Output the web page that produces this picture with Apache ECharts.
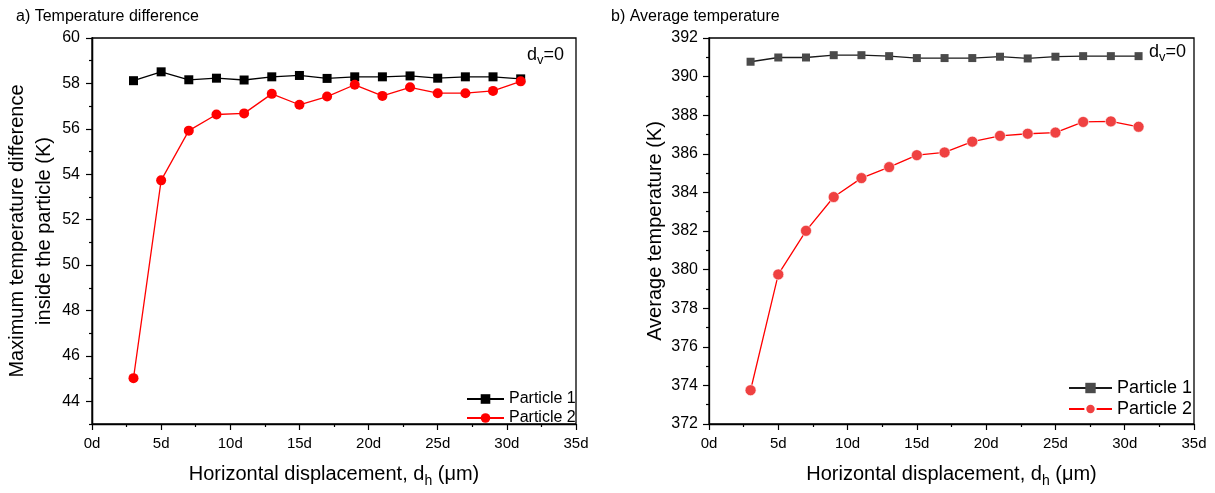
<!DOCTYPE html>
<html>
<head>
<meta charset="utf-8">
<script src="https://cdn.jsdelivr.net/npm/echarts@6/dist/echarts.min.js"></script>
<style>
  html, body { margin: 0; padding: 0; background: #fff; }
  #main { width: 1215px; height: 493px; }
</style>
</head>
<body>
<div id="main"></div>
<script>
// horizontal displacement (in d)
const dh = [3, 5, 7, 9, 11, 13, 15, 17, 19, 21, 23, 25, 27, 29, 31]

// a) max temperature difference inside the particle (K)
const diffP1 = [58.12, 58.51, 58.16, 58.23, 58.15, 58.29, 58.35, 58.22, 58.29, 58.29, 58.33, 58.23, 58.29, 58.29, 58.2]
const diffP2 = [45.02, 53.73, 55.92, 56.63, 56.68, 57.54, 57.06, 57.42, 57.94, 57.45, 57.83, 57.57, 57.57, 57.67, 58.09]

// b) average temperature (K)
const avgP1 = [390.77, 390.99, 390.99, 391.11, 391.11, 391.06, 390.96, 390.96, 390.96, 391.03, 390.94, 391.03, 391.06, 391.06, 391.06]
const avgP2 = [373.75, 379.75, 382.01, 383.76, 384.74, 385.31, 385.93, 386.07, 386.63, 386.93, 387.04, 387.1, 387.65, 387.68, 387.4]

// tick labels of the left y axis (min is 43, so ticks are given by hand)
const diffTicks = [44, 46, 48, 50, 52, 54, 56, 58, 60]
const diffMinor = [43, 45, 47, 49, 51, 53, 55, 57, 59]

const font = 'Liberation Sans, Arial, sans-serif'
const zip = (xs, ys) => xs.map((x, i) => [x, ys[i]])

const chart = echarts.init(document.getElementById('main'))

const axisLine = { show: true, lineStyle: { color: '#000', width: 1.3 } }
const subRich = {
    s: { fontSize: 14, lineHeight: 14, verticalAlign: 'top', padding: [12, 0, 0, 0], fontFamily: font, color: '#000' },
}

const xAxisBase = (gi) => ({
    gridIndex: gi,
    type: 'value',
    min: 0,
    max: 35,
    interval: 5,
    name: 'Horizontal displacement, d{s|h} (μm)',
    nameLocation: 'middle',
    nameGap: 38,
    nameTextStyle: { fontSize: 20, fontFamily: font, color: '#000', lineHeight: 24, rich: subRich },
    axisLine: axisLine,
    axisTick: { show: true, length: 6, lineStyle: { color: '#000', width: 1.2 } },
    minorTick: { show: true, splitNumber: 2, length: 3, lineStyle: { color: '#000', width: 1.2 } },
    axisLabel: { formatter: '{value}d', fontSize: 15, fontFamily: font, color: '#000', margin: 12 },
    splitLine: { show: false },
})

const option = {
    animation: false,
    backgroundColor: '#fff',
    grid: [
        { left: 92, top: 38, width: 484, height: 390, show: true, borderColor: '#000', borderWidth: 1.3 },
        { left: 709, top: 38, width: 485, height: 391, show: true, borderColor: '#000', borderWidth: 1.3 },
    ],
    xAxis: [xAxisBase(0), xAxisBase(1)],
    yAxis: [
        {
            gridIndex: 0,
            type: 'value',
            position: 'left',
            min: 43,
            max: 60,
            name: 'Maximum temperature difference\ninside the particle (K)',
            nameLocation: 'middle',
            nameGap: 32,
            nameTextStyle: { fontSize: 20, fontFamily: font, color: '#000', lineHeight: 27 },
            axisLine: axisLine,
            axisTick: { show: true, length: 6, customValues: diffTicks, lineStyle: { color: '#000', width: 1.2 } },
            axisLabel: { customValues: diffTicks, fontSize: 16, fontFamily: font, color: '#000', margin: 12 },
            splitLine: { show: false },
        },
        {
            // minor ticks only
            gridIndex: 0,
            type: 'value',
            position: 'left',
            offset: 0,
            min: 43,
            max: 60,
            axisLine: axisLine,
            axisTick: { show: true, length: 3, customValues: diffMinor, lineStyle: { color: '#000', width: 1.2 } },
            axisLabel: { show: false },
            splitLine: { show: false },
        },
        {
            gridIndex: 1,
            type: 'value',
            min: 372,
            max: 392,
            interval: 2,
            name: 'Average temperature (K)',
            nameLocation: 'middle',
            nameGap: 44,
            nameTextStyle: { fontSize: 20, fontFamily: font, color: '#000' },
            axisLine: axisLine,
            axisTick: { show: true, length: 6, lineStyle: { color: '#000', width: 1.2 } },
            minorTick: { show: true, splitNumber: 2, length: 3, lineStyle: { color: '#000', width: 1.2 } },
            axisLabel: { fontSize: 16, fontFamily: font, color: '#000', margin: 11 },
            splitLine: { show: false },
        },
    ],
    legend: [
        {
            left: 461,
            top: 386,
            orient: 'vertical',
            itemWidth: 37,
            itemHeight: 12,
            itemGap: 3,
            textStyle: { fontSize: 16, fontFamily: font, color: '#000' },
            data: ['Particle 1', 'Particle 2'],
        },
        {
            left: 1063,
            top: 374,
            orient: 'vertical',
            itemWidth: 43,
            itemHeight: 13,
            itemGap: 3,
            textStyle: { fontSize: 18, fontFamily: font, color: '#000' },
            formatter: (name) => name.replace('b-', ''),
            data: ['b-Particle 1', 'b-Particle 2'],
        },
    ],
    graphic: [
        { type: 'text', left: 16, top: 9, style: { text: 'a) Temperature difference', fontSize: 16, fontFamily: font, fill: '#000' } },
        { type: 'text', left: 611, top: 9, style: { text: 'b) Average temperature', fontSize: 16, fontFamily: font, fill: '#000' } },
        {
            type: 'text', left: 527, top: 44,
            style: {
                text: '{a|d}{s|v}{a|=0}',
                rich: {
                    a: { fontSize: 18, lineHeight: 22, fontFamily: font, fill: '#000' },
                    s: { fontSize: 13, lineHeight: 13, verticalAlign: 'top', padding: [10, 0, 0, 0], fontFamily: font, fill: '#000' },
                },
            },
        },
        {
            type: 'text', left: 1149, top: 41,
            style: {
                text: '{a|d}{s|v}{a|=0}',
                rich: {
                    a: { fontSize: 18, lineHeight: 22, fontFamily: font, fill: '#000' },
                    s: { fontSize: 13, lineHeight: 13, verticalAlign: 'top', padding: [10, 0, 0, 0], fontFamily: font, fill: '#000' },
                },
            },
        },
    ],
    series: [
        {
            name: 'Particle 1',
            type: 'line',
            xAxisIndex: 0,
            yAxisIndex: 0,
            data: zip(dh, diffP1),
            symbol: 'rect',
            symbolSize: 9,
            itemStyle: { color: '#000' },
            lineStyle: { color: '#000', width: 1.3 },
        },
        {
            name: 'Particle 2',
            type: 'line',
            xAxisIndex: 0,
            yAxisIndex: 0,
            data: zip(dh, diffP2),
            symbol: 'circle',
            symbolSize: 10,
            itemStyle: { color: '#ff0000' },
            lineStyle: { color: '#ff0000', width: 1.3 },
        },
        {
            name: 'b-Particle 1',
            type: 'line',
            xAxisIndex: 1,
            yAxisIndex: 2,
            data: zip(dh, avgP1),
            symbol: 'rect',
            symbolSize: 8,
            itemStyle: { color: '#4a4a4a' },
            lineStyle: { color: '#1a1a1a', width: 1.3 },
        },
        {
            name: 'b-Particle 2',
            type: 'line',
            xAxisIndex: 1,
            yAxisIndex: 2,
            data: zip(dh, avgP2),
            symbol: 'circle',
            symbolSize: 11,
            itemStyle: { color: '#ef4141', borderColor: '#fff', borderWidth: 0.6 },
            lineStyle: { color: '#ff0000', width: 1.3 },
        },
    ],
}

chart.setOption(option)
window.onresize = () => {
    chart.resize()
}
</script>
</body>
</html>
